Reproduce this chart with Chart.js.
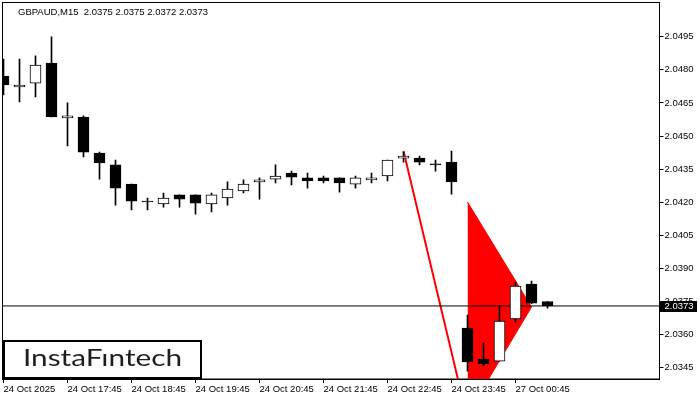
<!DOCTYPE html>
<html>
<head>
<meta charset="utf-8">
<script src="https://cdn.jsdelivr.net/npm/chart.js@4/dist/chart.umd.min.js"></script>
<style>
  html, body { margin: 0; padding: 0; background: #fff; }
</style>
</head>
<body>
<canvas id="chart" width="700" height="400"></canvas>
<script>
// Candle data (M15), 24 Oct 16:45 .. 27 Oct 01:15
const symbol = "GBPAUD,M15";
const opens = [
  2.04772, 2.04722, 2.04740, 2.04831, 2.04582, 2.04586, 2.04423, 2.04369, 2.04282, 2.04201,
  2.04192, 2.04233, 2.04233, 2.04192, 2.04219, 2.04251, 2.04292, 2.04305, 2.04332, 2.04310,
  2.04310, 2.04310, 2.04282, 2.04301, 2.04319, 2.04400, 2.04400, 2.04369, 2.04382, 2.03630,
  2.03489, 2.03480, 2.03671, 2.03829, 2.03750
];
const highs = [
  2.04849, 2.04849, 2.04863, 2.04949, 2.04650, 2.04591, 2.04427, 2.04391, 2.04282, 2.04219,
  2.04242, 2.04233, 2.04233, 2.04242, 2.04292, 2.04301, 2.04310, 2.04369, 2.04341, 2.04332,
  2.04319, 2.04310, 2.04319, 2.04332, 2.04391, 2.04427, 2.04409, 2.04391, 2.04432, 2.03689,
  2.03562, 2.03725, 2.03838, 2.03843, 2.03750
];
const lows = [
  2.04686, 2.04654, 2.04677, 2.04586, 2.04455, 2.04405, 2.04305, 2.04187, 2.04165, 2.04165,
  2.04178, 2.04178, 2.04146, 2.04156, 2.04187, 2.04242, 2.04214, 2.04287, 2.04278, 2.04264,
  2.04287, 2.04246, 2.04264, 2.04287, 2.04296, 2.04382, 2.04369, 2.04341, 2.04237, 2.03435,
  2.03458, 2.03480, 2.03657, 2.03740, 2.03720
];
const closes = [
  2.04731, 2.04731, 2.04822, 2.04586, 2.04591, 2.04427, 2.04378, 2.04264, 2.04205, 2.04201,
  2.04219, 2.04214, 2.04196, 2.04233, 2.04260, 2.04282, 2.04301, 2.04319, 2.04314, 2.04296,
  2.04296, 2.04287, 2.04310, 2.04310, 2.04391, 2.04409, 2.04382, 2.04369, 2.04292, 2.03476,
  2.03467, 2.03662, 2.03820, 2.03743, 2.03730
];

// x axis labels (every 4th candle)
const xTickIdx = [0, 4, 8, 12, 16, 20, 24, 28, 32];
const xTickLabels = ["24 Oct 2025", "24 Oct 17:45", "24 Oct 18:45", "24 Oct 19:45", "24 Oct 20:45",
  "24 Oct 21:45", "24 Oct 22:45", "24 Oct 23:45", "27 Oct 00:45"];
// price axis labels
const yTicks = [2.0345, 2.0360, 2.0375, 2.0390, 2.0405, 2.0420, 2.0435, 2.0450, 2.0465, 2.0480, 2.0495];

// bearish pennant: pole and flag
const poleX = [25, 29];
const poleY = [2.04432, 2.03217];
const flagX = [29, 33];
const flagUpper = [2.04201, 2.03725];
const flagLower = [2.03239, 2.03725];

const xMin = -0.0625, xMax = 41;
const yMin = 2.03399, yMax = 2.05105;
const lastClose = closes[closes.length - 1];
const last = closes.length - 1;

const FONT = { family: "'Liberation Sans', Arial, sans-serif", size: 9.5 };

const overlay = {
  id: "overlay",
  beforeDatasetsDraw(chart) {
    const { ctx, chartArea } = chart;
    ctx.save();
    ctx.strokeStyle = "#000";
    ctx.lineWidth = 1;
    ctx.strokeRect(chartArea.left, chartArea.top, chartArea.right - chartArea.left, chartArea.bottom - chartArea.top);
    ctx.restore();
  },
  afterDraw(chart) {
    const { ctx, chartArea, scales } = chart;
    ctx.save();
    // title
    ctx.fillStyle = "#000";
    ctx.font = FONT.size + "px " + FONT.family;
    ctx.textBaseline = "alphabetic";
    const title = symbol + "  " + [opens[last], highs[last], lows[last], closes[last]].map((v) => v.toFixed(4)).join(" ");
    ctx.fillText(title, 18, 15);

    // current price label
    const py = Math.round(scales.y.getPixelForValue(lastClose));
    ctx.fillStyle = "#000";
    ctx.fillRect(chartArea.right + 0.5, py - 5, 37, 11);
    ctx.fillStyle = "#fff";
    ctx.textBaseline = "middle";
    ctx.fillText(lastClose.toFixed(4), chartArea.right + 5, py + 0.5);

    // logo
    ctx.fillStyle = "#fff";
    ctx.fillRect(3, 340, 199, 39);
    ctx.strokeStyle = "#000";
    ctx.lineWidth = 2;
    ctx.strokeRect(4, 341, 197, 37);
    ctx.fillStyle = "#1e1e1e";
    ctx.font = "23px Lato, 'Open Sans', sans-serif";
    ctx.textBaseline = "alphabetic";
    const logo = "InstaFıntech";
    const w = ctx.measureText(logo).width;
    ctx.translate(23, 365.5);
    ctx.scale(159 / w, 1);
    ctx.fillText(logo, 0, 0);
    ctx.restore();
  },
};

const ctx = document.getElementById("chart").getContext("2d");
new Chart(ctx, {
  type: "bar",
  data: {
    datasets: [
      {
        label: "bodies",
        data: opens.map((o, i) => ({ x: i, y: [o, closes[i]] })),
        backgroundColor: opens.map((o, i) => (closes[i] > o ? "#fff" : "#000")),
        borderColor: "#000",
        borderWidth: 1,
        borderSkipped: false,
        minBarLength: 1,
        barThickness: 11,
        grouped: false,
        order: 1,
      },
      {
        label: "wicks",
        data: lows.map((l, i) => ({ x: i, y: [l, highs[i]] })),
        backgroundColor: "#000",
        borderWidth: 0,
        barThickness: 1,
        grouped: false,
        order: 2,
      },
      {
        type: "line",
        label: "price",
        data: [{ x: xMin, y: lastClose }, { x: xMax, y: lastClose }],
        borderColor: "#000",
        borderWidth: 1,
        pointRadius: 0,
        order: 3,
      },
      {
        type: "line",
        label: "pole",
        data: poleX.map((x, i) => ({ x: x, y: poleY[i] })),
        borderColor: "#ff0000",
        borderWidth: 2,
        pointRadius: 0,
        order: 4,
      },
      {
        type: "line",
        label: "flagUpper",
        data: flagX.map((x, i) => ({ x: x, y: flagUpper[i] })),
        borderColor: "#ff0000",
        backgroundColor: "#ff0000",
        borderWidth: 1,
        pointRadius: 0,
        fill: "+1",
        order: 5,
      },
      {
        type: "line",
        label: "flagLower",
        data: flagX.map((x, i) => ({ x: x, y: flagLower[i] })),
        borderColor: "#ff0000",
        borderWidth: 1,
        pointRadius: 0,
        order: 6,
      },
    ],
  },
  options: {
    responsive: false,
    animation: false,
    layout: { padding: { left: 2.5, top: 2.5, right: 0, bottom: 0 } },
    plugins: {
      legend: { display: false },
      tooltip: { enabled: false },
    },
    scales: {
      x: {
        type: "linear",
        min: xMin,
        max: xMax,
        offset: false,
        afterBuildTicks: (s) => {
          s.ticks = xTickIdx.map((v) => ({ value: v }));
        },
        afterFit: (s) => {
          s.height = 21;
          s.paddingLeft = 0;
          s.paddingRight = 0;
        },
        grid: { drawOnChartArea: false, color: "#000", tickLength: 4, offset: false },
        border: { display: true, color: "#000" },
        ticks: {
          autoSkip: false,
          maxRotation: 0,
          align: "start",
          padding: 1,
          color: "#000",
          font: FONT,
          callback: (v) => xTickLabels[xTickIdx.indexOf(v)],
        },
      },
      y: {
        position: "right",
        min: yMin,
        max: yMax,
        afterBuildTicks: (s) => {
          s.ticks = yTicks.map((v) => ({ value: v }));
        },
        afterFit: (s) => {
          s.width = 40.5;
          s.paddingTop = 0;
          s.paddingBottom = 0;
        },
        grid: { drawOnChartArea: false, color: "#000", tickLength: 4 },
        border: { display: true, color: "#000" },
        ticks: {
          padding: 1,
          color: "#000",
          font: FONT,
          callback: (v) => v.toFixed(4),
        },
      },
    },
  },
  plugins: [overlay],
});
</script>
</body>
</html>
